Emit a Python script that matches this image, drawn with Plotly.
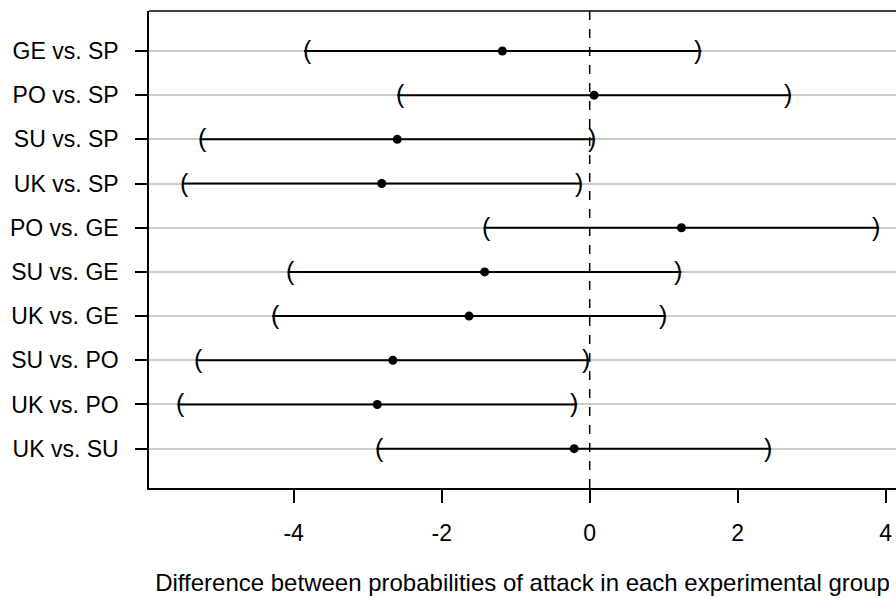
import plotly.graph_objects as go

labels = ["GE vs. SP", "PO vs. SP", "SU vs. SP", "UK vs. SP", "PO vs. GE",
          "SU vs. GE", "UK vs. GE", "SU vs. PO", "UK vs. PO", "UK vs. SU"]
estimate = [-1.18, 0.06, -2.60, -2.81, 1.24, -1.42, -1.63, -2.66, -2.87, -0.21]
lower = [-3.86, -2.60, -5.27, -5.51, -1.43, -4.08, -4.29, -5.32, -5.57, -2.88]
upper = [1.51, 2.72, 0.07, -0.11, 3.91, 1.24, 1.03, -0.01, -0.17, 2.45]
xticks = [-4, -2, 0, 2, 4]
xticklabels = ["-4", "-2", "0", "2", "4"]
xtitle = "Difference between probabilities of attack in each experimental group"

n = len(labels)
ypos = [n - i for i in range(n)]  # first label at top

FONT = "Liberation Sans, Arial, Helvetica, sans-serif"
FS = 23

fig = go.Figure()

# interval lines
xs, ys = [], []
for lo, hi, y in zip(lower, upper, ypos):
    xs += [lo, hi, None]
    ys += [y, y, None]
fig.add_trace(go.Scatter(x=xs, y=ys, mode="lines",
                         line=dict(color="black", width=2), hoverinfo="skip"))

# points
fig.add_trace(go.Scatter(x=estimate, y=ypos, mode="markers",
                         marker=dict(color="black", size=9), hoverinfo="skip"))

# brackets as text annotations
for lo, hi, y in zip(lower, upper, ypos):
    fig.add_annotation(x=lo, y=y, text="(", showarrow=False, xshift=3, yshift=1,
                       font=dict(family=FONT, size=25, color="black"))
    fig.add_annotation(x=hi, y=y, text=")", showarrow=False, xshift=-3, yshift=1,
                       font=dict(family=FONT, size=25, color="black"))

# vertical dashed line at 0
fig.add_vline(x=0, line=dict(color="black", width=1.5, dash="dash"), layer="above")

# top border
fig.add_shape(type="line", xref="paper", yref="paper", x0=0, x1=1, y0=1, y1=1,
              line=dict(color="black", width=1.5))

fig.update_layout(
    width=896, height=598,
    margin=dict(l=149, r=0, t=11, b=110),
    paper_bgcolor="white", plot_bgcolor="white",
    showlegend=False,
    font=dict(family=FONT, size=FS, color="black"),
    xaxis=dict(range=[-5.955, 4.139], tickvals=xticks, ticktext=xticklabels,
               ticks="outside", ticklen=13, ticklabelstandoff=11,
               tickwidth=1.5, tickcolor="black", showline=True, linecolor="black",
               linewidth=1.5, showgrid=False, zeroline=False,
               tickfont=dict(size=FS), title=dict(text=xtitle, font=dict(size=24), standoff=29)),
    yaxis=dict(range=[0.11, 10.905], tickvals=ypos, ticktext=labels, ticks="outside",
               ticklen=12, ticklabelstandoff=12, tickwidth=1.5, tickcolor="black", showline=True,
               linecolor="black", linewidth=1.5, showgrid=True, gridcolor="#cccccc",
               gridwidth=1.5, zeroline=False, tickfont=dict(size=FS)),
)

fig.write_html("out.html")
